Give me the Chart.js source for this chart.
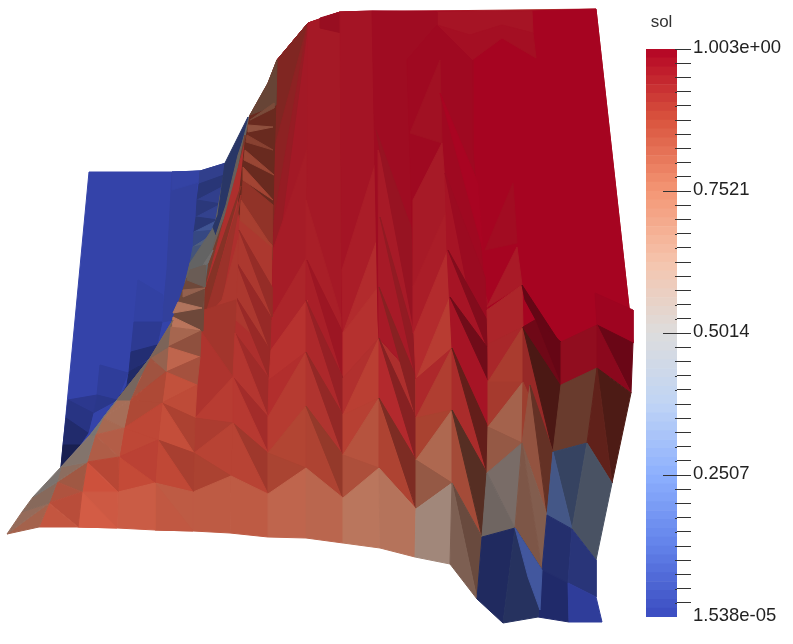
<!DOCTYPE html>
<html>
<head>
<meta charset="utf-8">
<script src="https://cdn.jsdelivr.net/npm/chart.js@4/dist/chart.umd.js"></script>
<style>
  html, body { margin: 0; padding: 0; background: #fff; overflow: hidden; }
  canvas { position: absolute; top: 0; }
  #surface { left: 0; }
  #colorbar { left: 646px; }
</style>
</head>
<body>
<canvas id="surface" width="793" height="644"></canvas>
<canvas id="colorbar" width="147" height="644"></canvas>
<script>
// every row: sol value, shading, then the projected x,y of the face corners
const topSheet = [
  [.92, .85, 245,143, 277,60, 308,23, 340,12, 596,9, 633,343, 553,452, 487,473, 452,483, 343,498, 268,494, 193,492, 155,483, 118,492, 124,428, 168,347, 203,320, 205,290],
  [1, .92, 277,60, 308,23, 340,12, 372,11, 527,11, 596,9, 633,343, 597,325, 561,342, 535,320, 523,327, 272,320],
  [.97, .88, 437,12, 532,11, 533,33, 502,25, 470,35, 437,25],
  [.98, .88, 437,25, 470,35, 502,25, 533,33, 536,58, 502,38, 472,60],
  [1, .88, 597,325, 595,293, 633,310, 633,343],
  // x 272 to 343
  [.96, .85, 277,60, 308,23, 306,320, 272,320, 274,167],
  [.91, .62, 308,23, 277,60, 274,150],
  [.93, .7, 308,23, 274,150, 274,220],
  [.95, .77, 308,23, 274,220, 273,290],
  [.955, .86, 273,250, 307,150, 307,257, 272,317],
  [.94, .87, 307,257, 307,300, 271,350, 272,317],
  [.96, .86, 308,23, 340,12, 342,320, 343,378, 306,352],
  [.98, .82, 320,18, 340,12, 342,33, 320,28],
  [.95, .87, 306,200, 342,320, 343,378, 306,352],
  [.965, .82, 307,260, 343,333, 343,378],
  // x 340 to 416
  [.97, .87, 340,12, 372,11, 378,320, 379,338, 343,378, 342,320],
  [.955, .88, 342,270, 375,165, 377,240, 343,333],
  [.93, .885, 343,333, 377,240, 378,287],
  [.92, .89, 343,378, 343,333, 378,287, 379,338],
  [.985, .86, 372,11, 437,12, 437,25, 407,60, 415,320, 416,379, 379,338, 378,320],
  [.96, .87, 378,150, 412,230, 416,379, 379,338],
  [.97, .8, 376,130, 412,230, 414,330],
  [.95, .75, 380,217, 413,333, 415,375],
  [.93, .68, 379,287, 415,375, 416,418],
  // x 407 to 452
  [.99, .87, 407,60, 437,25, 472,60, 473,150, 487,320, 452,348, 416,379, 415,320],
  [.975, .86, 410,133, 440,60, 442,143],
  [.96, .87, 413,200, 442,143, 447,210, 413,287],
  [.955, .88, 413,287, 447,210, 448,250, 414,333],
  [.93, .89, 414,333, 448,250, 450,297, 416,380],
  [.9, .88, 416,380, 450,297, 452,348, 416,418],
  // x 441 to 523
  [1, .94, 440,93, 478,183, 483,250],
  [.97, .88, 445,173, 487,300, 488,427, 452,348, 447,250],
  [.985, .84, 445,173, 485,277, 487,320, 470,300],
  [.98, .7, 448,250, 487,320, 487,347],
  [.975, .6, 450,297, 487,347, 488,380],
  [.985, .88, 485,250, 513,183, 517,243],
  [.96, .88, 487,307, 517,247, 522,285],
  [.94, .87, 487,310, 522,285, 523,327, 488,344],
  [.99, .55, 522,285, 558,340, 537,322, 525,300]
];

const redRows = [
  // upper flank of the ridge
  [.87, .48, 250,115, 268,83, 277,60, 274,167, 272,260, 240,220, 238,207, 245,143],
  [.89, .68, 243,180, 273,205, 272,260, 240,220],
  [.9, .82, 240,215, 272,245, 270,350, 236,320],
  [.72, .42, 250,115, 268,83, 277,60, 276,105],
  [.75, .5, 250,120, 274,103, 274,108],
  [.78, .6, 248,125, 273,127, 248,132],
  [.83, .6, 247,135, 273,150, 246,142],
  [.84, .68, 245,150, 274,175, 244,160],
  [.86, .74, 243,167, 273,200, 243,180],
  [.88, .78, 241,200, 272,247, 240,220],
  [.91, .72, 239,230, 272,287, 272,317],
  [.92, .74, 237,263, 271,317, 270,350],
  [.92, .75, 236,297, 270,350, 270,380],
  [.92, .78, 235,333, 270,380, 269,417],
  [.88, .62, 241,186, 205,290, 204,320],
  [.9, .74, 241,195, 204,320, 222,300],
  [.9, .82, 238,240, 222,300, 204,320, 236,320],
  // x 200 to 268
  [.9, .78, 200,330, 204,310, 236,300, 233,377],
  [.91, .84, 200,330, 233,377, 195,418],
  [.9, .88, 195,418, 233,377, 233,423],
  [.89, .81, 195,418, 233,423, 194,453],
  [.885, .86, 194,453, 233,423, 231,476],
  [.875, .79, 194,453, 231,476, 193,492],
  [.91, .87, 235,333, 268,417, 233,377],
  [.92, .8, 233,377, 268,417, 268,453],
  [.905, .88, 233,377, 268,453, 233,423],
  [.89, .75, 233,423, 268,453, 268,494],
  [.885, .86, 233,423, 268,494, 231,476],
  // x 268 to 343
  [.92, .9, 307,300, 307,352, 269,380, 271,350],
  [.925, .88, 269,380, 306,352, 268,417],
  [.9, .87, 268,417, 306,352, 306,406, 268,453],
  [.875, .82, 268,453, 306,406, 306,468],
  [.87, .78, 268,453, 306,468, 268,494],
  [.935, .87, 306,300, 343,415, 306,352],
  [.94, .76, 306,300, 343,378, 343,415],
  [.91, .85, 306,352, 343,455, 306,406],
  [.92, .72, 306,352, 343,415, 343,455],
  [.875, .8, 306,406, 343,498, 306,468],
  [.875, .68, 306,406, 343,455, 343,498],
  // x 343 to 416
  [.92, .87, 343,378, 379,338, 343,415],
  [.895, .88, 343,415, 379,338, 379,398],
  [.89, .86, 343,415, 379,398, 343,455],
  [.84, .81, 343,455, 379,398, 379,468],
  [.84, .77, 343,455, 379,468, 343,498],
  [.935, .9, 379,338, 416,460, 379,398],
  [.93, .67, 379,338, 416,418, 416,460],
  [.875, .8, 379,398, 416,509, 379,468],
  [.89, .59, 379,398, 416,460, 416,509],
  // x 416 to 523
  [.935, .87, 416,379, 452,348, 416,418],
  [.89, .83, 416,418, 452,348, 452,410],
  [.875, .78, 416,418, 452,410, 416,460],
  [.76, .72, 416,460, 452,410, 452,483],
  [.76, .615, 416,460, 452,483, 416,509],
  [.925, .84, 452,348, 487,473, 452,410],
  [.91, .48, 452,348, 488,427, 487,473],
  [.84, .73, 452,410, 482,537, 452,483],
  [.8, .37, 452,410, 487,473, 482,537],
  [.935, .85, 488,344, 523,327, 488,382],
  [.89, .8, 488,382, 523,327, 523,382],
  [.89, .78, 488,382, 523,382, 488,427],
  [.76, .68, 488,427, 523,382, 522,443],
  [.76, .615, 488,427, 522,443, 487,473]
];

const bottomRow = [
  [.83, .84, 193,492, 231,476, 230,533, 193,531],
  [.83, .84, 231,476, 268,494, 268,537, 230,533],
  [.8, .82, 268,494, 306,468, 306,538, 268,537],
  [.79, .79, 306,468, 343,498, 343,543, 306,538],
  [.735, .76, 343,498, 379,468, 380,548, 343,543],
  [.735, .74, 379,468, 416,509, 415,557, 380,548],
  [.6, .67, 416,509, 452,483, 450,564, 415,557],
  [.69, .43, 452,483, 482,537, 477,599],
  [.65, .51, 452,483, 477,599, 450,564]
];

const rightFaces = [
  [.56, .52, 487,473, 522,443, 515,528],
  [.55, .48, 482,537, 515,528, 487,473],
  [.92, .74, 523,327, 553,452, 523,382],
  [.99, .56, 535,320, 561,342, 561,385],
  [.9, .36, 523,327, 561,385, 553,452],
  [.985, .6, 523,327, 535,320, 561,385],
  [.865, .71, 523,382, 553,452, 522,443],
  [.78, .62, 522,443, 530,385, 547,515],
  [.825, .44, 530,385, 553,452, 547,515],
  [.68, .53, 522,443, 547,515, 542,570],
  [.7, .51, 522,443, 542,570, 515,528],
  [.98, .78, 561,342, 597,325, 597,368, 561,385],
  [.78, .44, 561,385, 597,368, 587,443, 553,452],
  [.25, .38, 553,452, 587,443, 572,529],
  [.2, .55, 553,452, 572,529, 547,515],
  [.02, .55, 547,515, 572,529, 568,583, 542,570],
  [0, .55, 542,570, 568,583, 569,622, 538,617],
  [.99, .58, 597,325, 633,343, 631,393],
  [.99, .76, 597,325, 631,393, 597,368],
  [.89, .36, 597,368, 631,393, 612,483],
  [.89, .45, 597,368, 612,483, 587,443],
  [.35, .4, 587,443, 612,483, 596,560, 572,529],
  [.03, .6, 572,529, 596,560, 596,597, 568,583],
  [0, .8, 568,583, 596,597, 602,622, 569,622],
  [.03, .47, 482,537, 515,528, 503,623, 477,599],
  [.1, .42, 515,528, 542,570, 538,617, 503,623],
  [.12, .68, 515,528, 542,570, 540,610, 528,577]
];

const blueFaces = [
  [0, .88, 89,172, 185,172, 200,171, 226,163, 215,225, 190,280, 173,320, 150,358, 117,400, 90,435, 61,467, 75,320],
  [.01, .8, 172,172, 200,171, 197,185, 194,230, 187,280, 173,320, 162,322, 167,270],
  [.01, .84, 172,172, 200,171, 199,182, 172,190],
  [.04, .68, 200,171, 226,163, 224,175, 199,184],
  [.04, .58, 199,184, 224,175, 222,187, 197,200],
  [.04, .68, 197,200, 222,187, 221,204],
  [.04, .6, 197,200, 221,204, 196,217],
  [.05, .68, 196,217, 221,204, 218,220],
  [.05, .56, 196,217, 218,220, 194,232],
  [.14, .62, 194,232, 218,220, 216,230],
  [.12, .56, 194,232, 216,230, 193,247],
  [.3, .5, 193,247, 215,233, 213,243],
  [.25, .48, 193,247, 213,243, 190,263],
  [.5, .5, 190,263, 212,247, 208,263],
  [.55, .46, 190,263, 208,263, 185,283],
  [0, .85, 138,280, 163,295, 162,322, 134,322],
  [0, .76, 134,322, 162,322, 157,345, 131,352],
  [0, .6, 131,352, 157,345, 150,358, 129,372],
  [.01, .52, 129,372, 148,361, 137,378, 127,385],
  [.02, .6, 127,385, 137,378, 120,395, 119,400],
  [0, .8, 100,365, 128,373, 117,400, 97,395],
  [0, .72, 97,395, 117,400, 93,413],
  [0, .74, 68,400, 97,395, 93,413],
  [0, .68, 68,400, 93,413, 88,433, 66,418],
  [0, .56, 66,418, 88,433, 80,445, 63,445],
  [0, .42, 63,445, 80,445, 61,467],
  // grey band between the blue sheet and the ridge
  [.5, .45, 226,163, 250,115, 245,143, 241,186, 205,290, 187,280, 190,263, 215,225],
  [.1, .45, 225,163, 248,117, 238,155, 226,205, 216,235, 213,227, 218,215],
  [.55, .45, 238,155, 245,135, 243,160, 232,200, 222,225, 209,262, 216,235, 226,205],
  [.8, .5, 245,135, 243,180, 235,215, 222,250, 205,290, 209,262, 222,225, 232,200],
  [.5, .5, 213,250, 208,263, 187,280, 173,320, 170,328, 185,300, 205,262],
  [.58, .5, 173,320, 150,358, 168,347, 170,327],
  [.58, .48, 150,358, 117,400, 130,400, 140,377, 168,347]
];

const leftFaces = [
  [.72, .45, 187,278, 205,270, 203,331, 170,327],
  [.58, .45, 190,270, 205,265, 205,287, 187,280],
  [.72, .6, 183,290, 205,288, 183,297],
  [.72, .72, 178,302, 202,308, 173,313],
  [.74, .76, 172,327, 200,330, 173,317],
  [.75, .68, 170,327, 201,331, 168,347],
  [.78, .6, 168,347, 201,331, 200,357],
  [.8, .82, 168,347, 200,357, 166,372],
  [.82, .72, 166,372, 200,357, 197,385],
  [.86, .88, 166,372, 197,385, 162,403],
  [.87, .87, 162,403, 197,385, 195,418],
  [.88, .8, 162,403, 195,418, 194,453],
  [.87, .9, 162,403, 194,453, 158,440],
  [.88, .78, 158,440, 194,453, 193,492],
  [.88, .89, 158,440, 193,492, 155,483],
  [.83, .84, 155,483, 193,492, 193,531, 155,530],
  [.84, .86, 155,483, 193,531, 155,530],
  [.72, .61, 150,358, 168,347, 166,372],
  [.805, .69, 150,358, 166,372, 130,400],
  [.86, .79, 130,400, 166,372, 162,403],
  [.86, .79, 130,400, 162,403, 124,428],
  [.88, .88, 124,428, 162,403, 158,440],
  [.88, .88, 124,428, 158,440, 119,457],
  [.89, .88, 119,457, 158,440, 155,483],
  [.88, .91, 119,457, 155,483, 118,492],
  [.84, .9, 118,492, 155,483, 155,530, 117,528],
  [.72, .68, 117,400, 130,400, 103,418],
  [.72, .68, 103,418, 130,400, 124,428],
  [.74, .68, 95,435, 103,418, 124,428],
  [.805, .77, 95,435, 124,428, 119,457],
  [.8, .75, 95,435, 119,457, 87,462],
  [.875, .85, 87,462, 119,457, 118,492],
  [.87, .94, 87,462, 118,492, 82,492],
  [.85, .92, 82,492, 118,492, 117,528, 78,527],
  [.85, .95, 82,492, 117,528, 78,527],
  [.79, .68, 57,482, 87,462, 82,492],
  [.64, .57, 57,482, 61,467, 87,462],
  [.83, .77, 57,482, 82,492, 49,503],
  [.86, .84, 49,503, 82,492, 78,527],
  [.85, .88, 49,503, 78,527, 39,527],
  [.76, .68, 7,534, 49,503, 39,527],
  [.68, .61, 7,534, 22,512, 49,503],
  [.64, .55, 22,512, 33,497, 57,482, 49,503],
  [.54, .54, 33,497, 61,467, 57,482],
  [.57, .56, 61,467, 90,435, 95,435, 87,462],
  [.52, .54, 90,435, 117,400, 103,418, 95,435],
  [.58, .5, 117,400, 150,358, 140,377, 130,400],
  [.62, .51, 150,358, 173,320, 170,327, 168,347]
];

const solMin = 1.538e-05;
const solMax = 1.003;
const barLabels = ["1.538e-05", "0.2507", "0.5014", "0.7521", "1.003e+00"];
const barBands = 64;
const minorPerMajor = 10;

// sol (0..1) through the blue-white-red table of the bar
const tableStops = [0, .125, .25, .375, .5, .625, .75, .875, 1];
const tableRed = [59, 98, 141, 192, 221, 245, 244, 217, 180];
const tableGreen = [76, 130, 176, 212, 220, 196, 150, 84, 4];
const tableBlue = [192, 234, 254, 245, 220, 173, 116, 62, 36];

function solColor(t, light) {
    var k = 0;
    while (k < tableStops.length - 2 && t > tableStops[k + 1]) k++;
    var f = (t - tableStops[k]) / (tableStops[k + 1] - tableStops[k]);
    var mix = function (table) { return Math.round((table[k] + (table[k + 1] - table[k]) * f) * light); };
    return "rgb(" + mix(tableRed) + "," + mix(tableGreen) + "," + mix(tableBlue) + ")";
}

function faceDataset(row) {
    var pts = [];
    for (var i = 2; i < row.length; i += 2) pts.push({ x: row[i], y: row[i + 1] });
    pts.push(pts[0]);
    var color = solColor(row[0], row[1]);
    return {
        data: pts,
        showLine: true,
        fill: "shape",
        backgroundColor: color,
        borderColor: color,
        borderWidth: 1,
        pointRadius: 0,
        clip: false
    };
}

const allFaces = [].concat(blueFaces, topSheet, redRows, bottomRow, rightFaces, leftFaces);

new Chart(document.getElementById("surface"), {
    type: "scatter",
    // the first dataset is painted last, so turn the list round
    data: { datasets: allFaces.map(faceDataset).reverse() },
    options: {
        responsive: false,
        animation: false,
        events: [],
        layout: { padding: 0 },
        plugins: { legend: { display: false }, tooltip: { enabled: false } },
        scales: {
            x: { type: "linear", min: 0, max: 793, display: false },
            y: { type: "linear", min: 0, max: 644, reverse: true, display: false }
        }
    }
});

// colour bar
var bandSize = (solMax - solMin) / barBands;
var bandSets = [];
for (var b = 0; b < barBands; b++) {
    bandSets.push({
        data: [bandSize],
        backgroundColor: solColor((b + .5) / barBands, 1),
        borderWidth: 0,
        barPercentage: 1,
        categoryPercentage: 1
    });
}

var tickStep = (solMax - solMin) / ((barLabels.length - 1) * minorPerMajor);

// the ticks reach into the bar, the middle majors further than the rest
const innerTicks = {
    id: "innerTicks",
    afterDatasetsDraw(chart) {
        var scale = chart.scales.y, ctx = chart.ctx, area = chart.chartArea;
        ctx.save();
        ctx.strokeStyle = "#333";
        ctx.lineWidth = 1;
        scale.ticks.forEach(function (tick, i) {
            if (i == 0) return;
            var isMiddle = i % minorPerMajor == 0 && i != scale.ticks.length - 1;
            var y = Math.round(scale.getPixelForValue(tick.value)) + .5;
            ctx.beginPath();
            ctx.moveTo(area.right - (isMiddle ? 14 : 2), y);
            ctx.lineTo(area.right, y);
            ctx.stroke();
        });
        ctx.restore();
    }
};

new Chart(document.getElementById("colorbar"), {
    type: "bar",
    data: { labels: ["sol"], datasets: bandSets },
    plugins: [innerTicks],
    options: {
        responsive: false,
        animation: false,
        events: [],
        layout: { padding: { left: 0, right: 0, top: 0, bottom: 27 } },
        plugins: { legend: { display: false }, tooltip: { enabled: false } },
        scales: {
            x: {
                position: "top",
                stacked: true,
                grid: { display: false },
                border: { display: false },
                ticks: { display: false },
                title: { display: true, text: "sol", color: "#333", padding: { top: 12, bottom: 0 }, font: { family: "Liberation Sans", size: 17 } },
                afterFit: function (scale) { scale.height = 49; }
            },
            y: {
                position: "right",
                stacked: true,
                min: solMin,
                max: solMax,
                grid: {
                    drawOnChartArea: false,
                    tickLength: 14,
                    tickColor: function (c) { return c.index == 0 ? "rgba(0,0,0,0)" : "#333"; }
                },
                border: { display: false },
                ticks: {
                    autoSkip: false,
                    padding: 2,
                    labelOffset: -1.5,
                    color: "#222",
                    font: { family: "Liberation Sans", size: 18.5 },
                    callback: function (value, index) {
                        return index % minorPerMajor == 0 ? barLabels[index / minorPerMajor] : "";
                    }
                },
                afterBuildTicks: function (scale) {
                    var list = [];
                    for (var i = 0; i <= (barLabels.length - 1) * minorPerMajor; i++) list.push({ value: solMin + i * tickStep });
                    scale.ticks = list;
                },
                afterFit: function (scale) { scale.width = 116; }
            }
        }
    }
});
</script>
</body>
</html>
